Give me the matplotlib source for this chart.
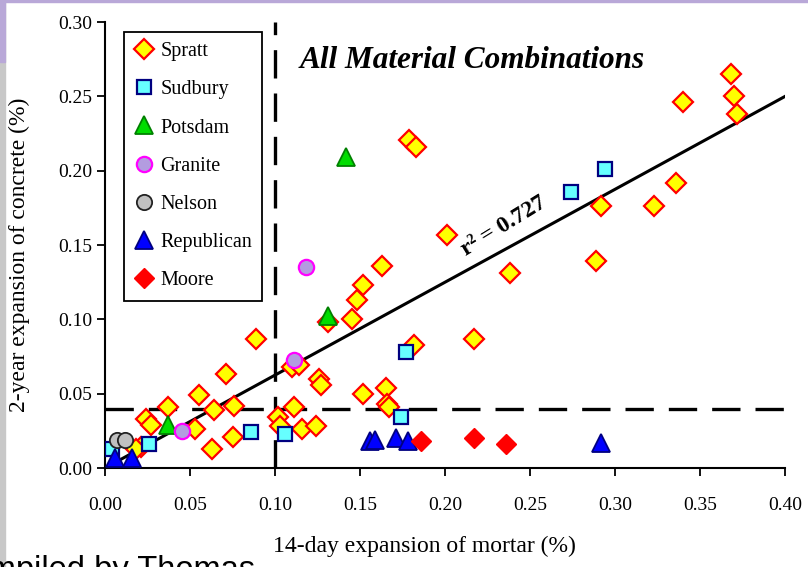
import numpy as np
import matplotlib
matplotlib.use("Agg")
import matplotlib.pyplot as plt
from matplotlib.patches import Rectangle

plt.rcParams['font.family'] = ['Liberation Serif', 'DejaVu Serif']

# 14-day mortar expansion (x) vs 2-year concrete expansion (y), in %
spratt_x = [0.368, 0.370, 0.372, 0.340, 0.336, 0.323, 0.292, 0.289, 0.238, 0.201,
            0.179, 0.183, 0.163, 0.152, 0.148, 0.145, 0.131, 0.182, 0.217, 0.165,
            0.166, 0.167, 0.152, 0.126, 0.127, 0.110, 0.114, 0.111, 0.102, 0.103,
            0.116, 0.124, 0.089, 0.071, 0.055, 0.037, 0.024, 0.027, 0.053, 0.064,
            0.076, 0.075, 0.063, 0.021, 0.018]
spratt_y = [0.265, 0.250, 0.238, 0.246, 0.192, 0.176, 0.176, 0.139, 0.131, 0.157,
            0.221, 0.216, 0.136, 0.123, 0.113, 0.100, 0.098, 0.083, 0.087, 0.054,
            0.043, 0.041, 0.050, 0.060, 0.056, 0.068, 0.069, 0.041, 0.034, 0.028,
            0.026, 0.028, 0.087, 0.063, 0.049, 0.041, 0.033, 0.029, 0.026, 0.039,
            0.042, 0.021, 0.013, 0.014, 0.013]

sudbury_x = [0.004, 0.026, 0.086, 0.106, 0.177, 0.174, 0.274, 0.294]
sudbury_y = [0.013, 0.016, 0.024, 0.023, 0.078, 0.034, 0.186, 0.201]

potsdam_x = [0.037, 0.131, 0.142]
potsdam_y = [0.029, 0.102, 0.209]

granite_x = [0.045, 0.111, 0.118]
granite_y = [0.025, 0.073, 0.135]

nelson_x = [0.007, 0.012]
nelson_y = [0.019, 0.019]

republican_x = [0.006, 0.016, 0.156, 0.159, 0.171, 0.178, 0.292]
republican_y = [0.007, 0.007, 0.018, 0.019, 0.020, 0.018, 0.017]

moore_x = [0.186, 0.217, 0.236]
moore_y = [0.018, 0.020, 0.016]

fit_slope = 0.625
limit_x = 0.10
limit_y = 0.04

fig = plt.figure(figsize=(8.08, 5.67), dpi=100)

# slide remnants around the chart
fig.patches.append(Rectangle((0, 0), 0.006, 1, transform=fig.transFigure,
                             color='#c8c8c8', zorder=0))
fig.patches.append(Rectangle((0, 0.89), 0.006, 0.11, transform=fig.transFigure,
                             color='#b9a8d8', zorder=0))
fig.patches.append(Rectangle((0, 0.996), 1, 0.004, transform=fig.transFigure,
                             color='#b9a8d8', zorder=0))

ax = fig.add_axes([0.130, 0.1746, 0.8415, 0.7864])

ms = 10
ax.plot(spratt_x, spratt_y, 'D', ms=ms, mfc='#ffff00', mec='#ff0000', mew=1.6,
        label='Spratt', zorder=3)
ax.plot(sudbury_x, sudbury_y, 's', ms=ms + 0.5, mfc='#66ffff', mec='#000080', mew=1.6,
        label='Sudbury', zorder=4)
ax.plot(potsdam_x, potsdam_y, '^', ms=ms + 3, mfc='#00dd00', mec='#008000', mew=1.3,
        label='Potsdam', zorder=4)
ax.plot(granite_x, granite_y, 'o', ms=ms + 1, mfc='#b39ce0', mec='#ff00ff', mew=1.6,
        label='Granite', zorder=4)
ax.plot(nelson_x, nelson_y, 'o', ms=ms + 1, mfc='#c0c0c0', mec='#222222', mew=1.3,
        label='Nelson', zorder=4)
ax.plot(republican_x, republican_y, '^', ms=ms + 3, mfc='#0000ff', mec='#000080', mew=1.3,
        label='Republican', zorder=4)
ax.plot(moore_x, moore_y, 'D', ms=ms, mfc='#ff0000', mec='#ff0000', mew=1.0,
        label='Moore', zorder=4)

# regression line through origin
xs = np.array([0.0, 0.40])
ax.plot(xs, fit_slope * xs, color='black', lw=2.2, zorder=2)

# limit lines
ax.plot([limit_x, limit_x], [0, 0.30], color='black', lw=2.4,
        dashes=(8.5, 4.5), zorder=2)
ax.plot([0, 0.40], [limit_y, limit_y], color='black', lw=2.4,
        dashes=(8.5, 4.5), zorder=2)

ax.set_xlim(0, 0.40)
ax.set_ylim(0, 0.30)
ax.set_xticks(np.arange(0, 0.401, 0.05))
ax.set_yticks(np.arange(0, 0.301, 0.05))
ax.xaxis.set_major_formatter(matplotlib.ticker.FormatStrFormatter('%.2f'))
ax.yaxis.set_major_formatter(matplotlib.ticker.FormatStrFormatter('%.2f'))
ax.tick_params(direction='out', length=6, width=1.3, labelsize=14)
ax.tick_params(axis='x', pad=15)
ax.tick_params(axis='y', pad=3)
for s in ['top', 'right']:
    ax.spines[s].set_visible(False)
for s in ['left', 'bottom']:
    ax.spines[s].set_linewidth(1.5)

ax.set_xlabel('14-day expansion of mortar (%)', fontsize=17)
ax.set_ylabel('2-year expansion of concrete (%)', fontsize=17)
ax.xaxis.set_label_coords(0.47, -0.152)
ax.yaxis.set_label_coords(-0.110, 0.478)

ax.text(0.1147, 0.2744, 'All Material Combinations', fontsize=22.5, fontweight='bold',
        style='italic', ha='left', va='center')

ang = np.degrees(np.arctan2(fit_slope * 446 / 0.30, 680 / 0.40)) + 3
ax.text(0.238, 0.157, 'r² = 0.727', fontsize=17, fontweight='bold', rotation=ang,
        rotation_mode='anchor', ha='center', va='bottom')

leg = ax.legend(loc='upper left', bbox_to_anchor=(0.028, 0.978), borderaxespad=0,
                fontsize=14.5, labelspacing=0.95, handlelength=1.0, handletextpad=0.3,
                borderpad=0.5, fancybox=False, framealpha=1, edgecolor='black')
leg.get_frame().set_linewidth(1.3)

fig.text(0.316, 0.021, 'Compiled by Thomas', fontsize=23.5, family='Liberation Sans',
         ha='right', va='top')

fig.savefig('out.png', dpi=100)
